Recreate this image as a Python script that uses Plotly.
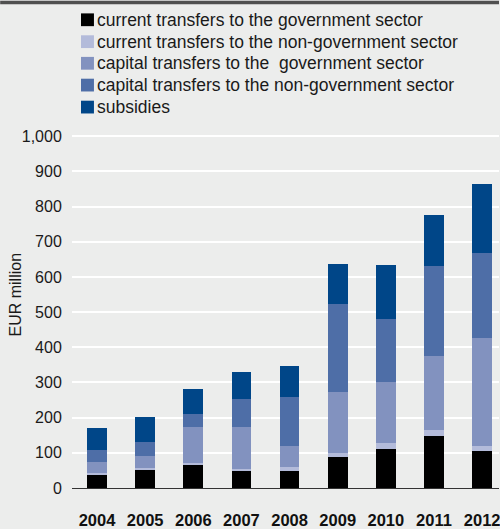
import plotly.graph_objects as go

# Transfers and subsidies, EUR million
years = ["2004", "2005", "2006", "2007", "2008", "2009", "2010", "2011", "2012"]
current_gov = [37, 53, 66, 48, 49, 88, 110, 147, 104]
current_nongov = [5, 5, 6, 6, 10, 12, 18, 19, 14]
capital_gov = [31, 34, 101, 120, 59, 172, 174, 209, 307]
capital_nongov = [36, 39, 38, 80, 142, 251, 178, 256, 243]
subsidies = [61, 72, 69, 76, 88, 115, 154, 144, 196]

series_names = [
    "current transfers to the government sector",
    "current transfers to the non-government sector",
    "capital transfers to the  government sector",
    "capital transfers to the non-government sector",
    "subsidies",
]
series_values = [current_gov, current_nongov, capital_gov, capital_nongov, subsidies]
series_colors = ["#000000", "#B3BBDA", "#8292BF", "#4E6EA7", "#004688"]

y_ticks = [0, 100, 200, 300, 400, 500, 600, 700, 800, 900, 1000]
y_tick_text = ["0", "100", "200", "300", "400", "500", "600", "700", "800", "900", "1,000"]

BG = "#ECEDEC"
FONT = "Liberation Sans, Arial, Helvetica, sans-serif"
W, H = 500, 529
ML, MR, MT, MB = 72, 0, 101, 34
PW, PH = W - ML - MR, H - MT - MB


def px_x(p):
    return (p - ML) / PW


def px_y(p):
    return (H - MB - p) / PH


fig = go.Figure()
for name, vals, col in zip(series_names, series_values, series_colors):
    fig.add_trace(go.Bar(
        x=years, y=vals, name=name,
        marker=dict(color=col, line=dict(width=0)),
        showlegend=False,
    ))

# Legend drawn as swatches with text beside them
row_centers = [18.3, 40.6, 62.6, 84.8, 107.2]
shapes = []
annotations = []
for name, col, cy in zip(series_names, series_colors, row_centers):
    shapes.append(dict(
        type="rect", xref="paper", yref="paper",
        x0=px_x(81), x1=px_x(94), y0=px_y(cy + 6.5), y1=px_y(cy - 6.5),
        fillcolor=col, line=dict(width=0), layer="above",
    ))
    annotations.append(dict(
        text=name, xref="paper", yref="paper",
        x=px_x(95.5), y=px_y(cy), xanchor="left", yanchor="middle",
        showarrow=False, font=dict(family=FONT, size=17.5, color="#1a1a1a"),
    ))

# Dark rule across the top edge
shapes.append(dict(
    type="rect", xref="paper", yref="paper",
    x0=px_x(0), x1=px_x(W), y0=px_y(2.5), y1=px_y(-1),
    fillcolor="#505050", line=dict(width=0), layer="above",
))

# Vertical axis title
annotations.append(dict(
    text="EUR million", xref="paper", yref="paper",
    x=0, y=0.5, xshift=-57, xanchor="center", yanchor="middle",
    textangle=-90, showarrow=False,
    font=dict(family=FONT, size=16, color="#1a1a1a"),
))

fig.update_layout(
    width=W, height=H,
    margin=dict(l=ML, r=MR, t=MT, b=MB, pad=0),
    paper_bgcolor=BG, plot_bgcolor=BG,
    barmode="stack", bargap=0.59,
    shapes=shapes, annotations=annotations,
    font=dict(family=FONT, color="#1a1a1a"),
)
fig.update_xaxes(
    type="category", range=[-0.52, 8.35],
    showgrid=False, zeroline=False,
    showline=True, linecolor="#333333", linewidth=1,
    ticks="outside", ticklen=17, tickcolor=BG,
    tickfont=dict(family=FONT, size=16.5, color="#111111", weight="bold"),
    fixedrange=True,
)
fig.update_yaxes(
    range=[0, 1100], tickvals=y_ticks, ticktext=y_tick_text,
    showgrid=True, gridcolor="#FFFFFF", gridwidth=1.5,
    zeroline=False, showline=False,
    ticks="outside", ticklen=6, tickcolor=BG,
    tickfont=dict(family=FONT, size=16, color="#1a1a1a"),
    fixedrange=True,
)

fig.write_html("out.html")
